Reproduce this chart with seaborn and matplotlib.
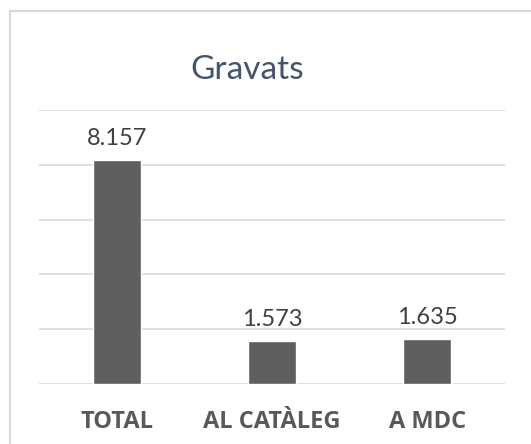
import matplotlib
matplotlib.use("Agg")
import matplotlib.pyplot as plt
import seaborn as sns
import pandas as pd
from matplotlib.patches import Rectangle

categories = ["TOTAL", "AL CATÀLEG", "A MDC"]
values = [8157, 1573, 1635]
title = "Gravats"

bar_color = "#5f5f5f"
grid_color = "#d9d9d9"

sns.set_theme(style="white")
plt.rcParams["font.family"] = ["Lato", "DejaVu Sans"]

df = pd.DataFrame({"cat": categories, "val": values})

fig = plt.figure(figsize=(5.31, 4.44), dpi=100)
ax = fig.add_axes([39 / 531, 60 / 444, 466 / 531, 274 / 444])

sns.barplot(data=df, x="cat", y="val", color=bar_color, width=0.31,
            saturation=1, ax=ax, zorder=3)

ax.set_ylim(0, 10000)
ax.set_yticks(range(0, 10001, 2000))
ax.yaxis.grid(True, color=grid_color, linewidth=1.2)
ax.set_yticklabels([])
ax.tick_params(axis="y", length=0)
ax.tick_params(axis="x", length=0, pad=19)
ax.set_xticks(range(len(categories)), categories, fontsize=17,
              fontweight="bold", color="#595959",
              family=["Open Sans", "DejaVu Sans"])
for s in ax.spines.values():
    s.set_visible(False)
ax.set_xlabel("")
ax.set_ylabel("")

def fmt(v):
    return "{:,}".format(v).replace(",", ".")

for i, v in enumerate(values):
    ax.annotate(fmt(v), (i, v), xytext=(0, 8), textcoords="offset points",
                ha="center", va="bottom", fontsize=17, color="#404040")

fig.text(247 / 531, 1 - 70 / 444, title, ha="center", va="center",
         fontsize=24, color="#44546a")

fig.patches.append(Rectangle((10 / 531, -0.2), 2, 1.2 - 11 / 444,
                             transform=fig.transFigure, fill=False,
                             edgecolor=grid_color, linewidth=1.5))

fig.savefig("out.png", dpi=100)
